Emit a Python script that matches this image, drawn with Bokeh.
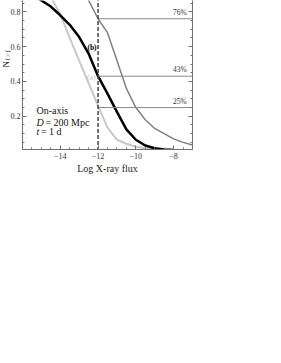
import numpy as np
from bokeh.plotting import figure
from bokeh.models import Range1d, LinearAxis, FixedTicker, Label
from bokeh.embed import file_html
from bokeh.resources import INLINE

# ---- data ----
flux_a = [-16, -15.5, -15, -14.5, -14, -13.5, -13, -12.5, -12, -11.5, -11, -10.5, -10, -9.5, -9, -8.5, -8]
frac_a = [0.99, 0.975, 0.95, 0.885, 0.785, 0.65, 0.52, 0.39, 0.26, 0.135, 0.065, 0.042, 0.025, 0.017, 0.012, 0.009, 0.007]

flux_b = [-16, -15.5, -15, -14.5, -14, -13.5, -13, -12.5, -12, -11.5, -11, -10.5, -10, -9.5, -9, -8.5, -8, -7.5, -7]
frac_b = [0.93, 0.9, 0.865, 0.83, 0.78, 0.725, 0.655, 0.56, 0.43, 0.33, 0.225, 0.125, 0.065, 0.032, 0.016, 0.009, 0.006, 0.004, 0.003]

flux_c = [-13.5, -13, -12.5, -12, -11.5, -11, -10.5, -10, -9.5, -9, -8.5, -8, -7.5, -7]
frac_c = [0.99, 0.95, 0.865, 0.76, 0.68, 0.52, 0.36, 0.25, 0.18, 0.13, 0.1, 0.07, 0.05, 0.035]

flux_limit = -12
level_values = [0.76, 0.43, 0.25]
level_labels = ["76%", "43%", "25%"]

x_ticks = [-14, -12, -10, -8]
x_tick_labels = ["\u221214", "\u221212", "\u221210", "\u22128"]
y_ticks = [0.2, 0.4, 0.6, 0.8]
y_tick_labels = ["0.2", "0.4", "0.6", "0.8"]

info_lines = ["On-axis", "D", "= 200 Mpc", "t", "= 1 d"]
y_title = ["N", "f > f", "c"]

# ---- layout ----
W, H = 281, 363
PX_PER_Y = 174.5
Y0_PAGE = 150.9             # page y of value 0
top_page = 0
bottom_page = 149.3
y_end = (Y0_PAGE - top_page) / PX_PER_Y
y_start = (Y0_PAGE - bottom_page) / PX_PER_Y

FONT = "Liberation Serif"
AXIS_COL = "#707070"

p = figure(width=W, height=H, output_backend="svg", toolbar_location=None,
           x_range=Range1d(-16, -7), y_range=Range1d(y_start, y_end),
           min_border_left=22, min_border_right=W - 192,
           min_border_top=0, min_border_bottom=H - int(round(bottom_page)))
p.outline_line_color = None
p.grid.visible = False
p.background_fill_color = "white"
p.border_fill_color = "white"

xt = FixedTicker(ticks=x_ticks, minor_ticks=list(np.arange(-16, -6.9, 0.5)))
yt = FixedTicker(ticks=y_ticks, minor_ticks=list(np.round(np.arange(0.05, 0.9, 0.05), 2)))

def style_axis(ax, ticker, labels_map, show_labels=True):
    ax.ticker = ticker
    ax.axis_line_color = AXIS_COL
    ax.axis_line_width = 1
    ax.major_tick_line_color = AXIS_COL
    ax.minor_tick_line_color = AXIS_COL
    ax.major_tick_in = 4
    ax.major_tick_out = 0
    ax.minor_tick_in = 2
    ax.minor_tick_out = 0
    ax.major_label_text_font = FONT
    ax.major_label_text_font_size = "8px"
    ax.major_label_text_color = "#333333"
    if show_labels:
        ax.major_label_overrides = labels_map
    else:
        ax.major_label_overrides = {k: "" for k in labels_map}
        ax.major_label_text_font_size = "1px"

xax = p.xaxis[0]
style_axis(xax, xt, dict(zip(x_ticks, x_tick_labels)))
xax.major_label_standoff = 3
xax.axis_label = "Log X-ray flux"
xax.axis_label_text_font = FONT
xax.axis_label_text_font_size = "10px"
xax.axis_label_text_font_style = "normal"
xax.axis_label_text_color = "#222222"
xax.axis_label_standoff = 1

yax = p.yaxis[0]
style_axis(yax, yt, dict(zip(y_ticks, y_tick_labels)))
yax.major_label_standoff = 2

rax = LinearAxis()
style_axis(rax, FixedTicker(ticks=y_ticks, minor_ticks=list(np.round(np.arange(0.05, 0.9, 0.05), 2))),
           dict(zip(y_ticks, y_tick_labels)), show_labels=False)
p.add_layout(rax, "right")

# ---- curves ----
p.line(flux_a, frac_a, line_color="#c8c8c8", line_width=2)
p.line(flux_c, frac_c, line_color="#808080", line_width=1.5)
p.line(flux_b, frac_b, line_color="black", line_width=2.5)

# horizontal levels and vertical dashed limit
for lv, lab in zip(level_values, level_labels):
    p.segment(x0=[flux_limit], y0=[lv], x1=[-7], y1=[lv], line_color="#8a8a8a", line_width=1)
    p.add_layout(Label(x=-7.3, y=lv, y_offset=2, text=lab, text_font=FONT, text_font_size="7.5px",
                       text_color="#333333", text_align="right", text_baseline="bottom"))
p.segment(x0=[flux_limit], y0=[0], x1=[flux_limit], y1=[1.0], line_color="#444444",
          line_width=1.5, line_dash="4 2")

# curve labels
p.add_layout(Label(x=-12.08, y=0.593, text="(b)", text_font=FONT, text_font_size="7.5px",
                   text_font_style="bold", text_color="black", text_align="right", text_baseline="middle"))
p.add_layout(Label(x=-12.14, y=0.42, text="(a)", text_font=FONT, text_font_size="7.5px",
                   text_color="#c0c0c0", text_align="right", text_baseline="middle"))

# info block
tx = -15.26
p.add_layout(Label(x=tx, y=0.234, text=info_lines[0], text_font=FONT, text_font_size="10px",
                   text_color="#111111", text_baseline="alphabetic"))
p.add_layout(Label(x=tx, y=0.166, text=info_lines[1], text_font=FONT, text_font_size="10px",
                   text_font_style="italic", text_color="#111111", text_baseline="alphabetic"))
p.add_layout(Label(x=tx, y=0.166, x_offset=9, text=info_lines[2], text_font=FONT, text_font_size="10px",
                   text_color="#111111", text_baseline="alphabetic"))
p.add_layout(Label(x=tx, y=0.114, text=info_lines[3], text_font=FONT, text_font_size="10px",
                   text_font_style="italic", text_color="#111111", text_baseline="alphabetic"))
p.add_layout(Label(x=tx, y=0.114, x_offset=4.5, text=info_lines[4], text_font=FONT, text_font_size="10px",
                   text_color="#111111", text_baseline="alphabetic"))

# y axis title N_{f > f_c}, rotated, drawn left of the frame.  Labels that live in a side
# panel are not clipped to the frame; the wide right margin absorbs their panel size.
p.add_layout(Label(x=-16, x_offset=-16.5, y=(Y0_PAGE - 64) / PX_PER_Y, text=y_title[0], text_font=FONT,
                   text_font_size="9px", text_color="#111111", angle=np.pi / 2,
                   text_align="center", text_baseline="middle"), "right")
p.add_layout(Label(x=-16, x_offset=-14.5, y=(Y0_PAGE - 55) / PX_PER_Y, text=y_title[1], text_font=FONT,
                   text_font_size="6px", text_color="#111111", angle=np.pi / 2,
                   text_align="center", text_baseline="middle"), "right")
p.add_layout(Label(x=-16, x_offset=-13.5, y=(Y0_PAGE - 50.5) / PX_PER_Y, text=y_title[2], text_font=FONT,
                   text_font_size="4.5px", text_color="#111111", angle=np.pi / 2,
                   text_align="center", text_baseline="middle"), "right")

open("out.html", "w").write(file_html(p, INLINE))
